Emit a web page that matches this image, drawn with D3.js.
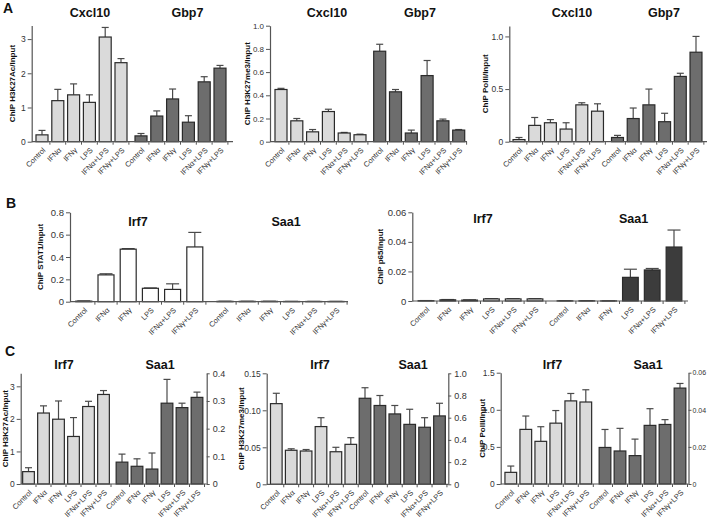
<!DOCTYPE html>
<html>
<head>
<meta charset="utf-8">
<script src="https://cdn.jsdelivr.net/npm/d3@7"></script>
<style>
  body { margin: 0; background: #fff; }
  svg { display: block; font-family: "Liberation Sans", Arial, sans-serif; }
</style>
</head>
<body>
<script>
// conditions on the x axis (same for every panel)
const conditions = ["Control", "IFNα", "IFNγ", "LPS", "IFNα+LPS", "IFNγ+LPS"];

// Panel A - Cxcl10 / Gbp7
const aGenes = ["Cxcl10", "Gbp7"];
const a1Cxcl10 = [0.2, 1.2, 1.37, 1.15, 3.06, 2.31];
const a1Cxcl10Sem = [0.13, 0.33, 0.32, 0.22, 0.28, 0.12];
const a1Gbp7 = [0.17, 0.75, 1.25, 0.57, 1.75, 2.15];
const a1Gbp7Sem = [0.07, 0.15, 0.29, 0.19, 0.15, 0.08];

const a2Cxcl10 = [0.45, 0.18, 0.085, 0.26, 0.075, 0.06];
const a2Cxcl10Sem = [0.01, 0.02, 0.02, 0.02, 0.005, 0.005];
const a2Gbp7 = [0.78, 0.43, 0.075, 0.57, 0.18, 0.1];
const a2Gbp7Sem = [0.06, 0.02, 0.025, 0.13, 0.015, 0.005];

const a3Cxcl10 = [0.02, 0.155, 0.18, 0.12, 0.35, 0.29];
const a3Cxcl10Sem = [0.02, 0.075, 0.03, 0.06, 0.02, 0.07];
const a3Gbp7 = [0.04, 0.22, 0.35, 0.19, 0.62, 0.85];
const a3Gbp7Sem = [0.02, 0.1, 0.15, 0.08, 0.03, 0.15];

// Panel B / C - Irf7 / Saa1
const bcGenes = ["Irf7", "Saa1"];
const b1Irf7 = [0.005, 0.24, 0.47, 0.12, 0.11, 0.49];
const b1Irf7Sem = [0.002, 0.01, 0.005, 0.003, 0.05, 0.13];
const b1Saa1 = [0.003, 0.003, 0.003, 0.002, 0.002, 0.002];
const b1Saa1Sem = [0.001, 0.001, 0.001, 0.001, 0.001, 0.001];

const b2Irf7 = [0.0002, 0.0008, 0.0006, 0.0014, 0.0014, 0.0014];
const b2Irf7Sem = [0.0001, 0.0002, 0.0002, 0.0002, 0.0002, 0.0002];
const b2Saa1 = [0.0001, 0.0001, 0.00005, 0.016, 0.021, 0.0365];
const b2Saa1Sem = [0.0001, 0.0001, 0.00005, 0.0055, 0.001, 0.0115];

const c1Irf7 = [0.38, 2.18, 1.99, 1.46, 2.38, 2.75];
const c1Irf7Sem = [0.12, 0.22, 0.56, 0.58, 0.16, 0.12];
const c1Saa1 = [0.079, 0.064, 0.054, 0.292, 0.276, 0.313];
const c1Saa1Sem = [0.029, 0.027, 0.058, 0.086, 0.016, 0.019];

const c2Irf7 = [0.109, 0.046, 0.045, 0.078, 0.044, 0.054];
const c2Irf7Sem = [0.014, 0.002, 0.002, 0.012, 0.006, 0.009];
const c2Saa1 = [0.775, 0.71, 0.634, 0.54, 0.514, 0.616];
const c2Saa1Sem = [0.095, 0.09, 0.076, 0.136, 0.086, 0.114];

const c3Irf7 = [0.157, 0.736, 0.575, 0.82, 1.12, 1.105];
const c3Irf7Sem = [0.085, 0.18, 0.197, 0.17, 0.1, 0.165];
const c3Saa1 = [0.0197, 0.0178, 0.0153, 0.0316, 0.0321, 0.0517];
const c3Saa1Sem = [0.0097, 0.0122, 0.0089, 0.009, 0.0026, 0.0025];

// axis ticks
const ticksA1 = [0, 1, 2, 3], labelsA1 = ["0", "1", "2", "3"];
const ticksA2 = [0, 0.2, 0.4, 0.6, 0.8, 1.0], labelsA2 = ["0", "0.2", "0.4", "0.6", "0.8", "1.0"];
const ticksA3 = [0, 0.5, 1.0], labelsA3 = ["0", "0.5", "1.0"];
const ticksB1 = [0, 0.2, 0.4, 0.6, 0.8], labelsB1 = ["0", "0.2", "0.4", "0.6", "0.8"];
const ticksB2 = [0, 0.02, 0.04, 0.06], labelsB2 = ["0", "0.02", "0.04", "0.06"];
const ticksC1 = [0, 1, 2, 3], labelsC1 = ["0", "1", "2", "3"];
const ticksC1R = [0, 0.1, 0.2, 0.3, 0.4], labelsC1R = ["0", "0.1", "0.2", "0.3", "0.4"];
const ticksC2 = [0, 0.05, 0.10, 0.15], labelsC2 = ["0", "0.05", "0.10", "0.15"];
const ticksC2R = [0, 0.2, 0.4, 0.6, 0.8, 1.0], labelsC2R = ["0", "0.2", "0.4", "0.6", "0.8", "1.0"];
const ticksC3 = [0, 0.5, 1.0, 1.5], labelsC3 = ["0", "0.5", "1.0", "1.5"];
const ticksC3R = [0, 0.02, 0.04, 0.06], labelsC3R = ["0", "0.02", "0.04", "0.06"];

const light = "#dadada", dark = "#6d6d6d", darker = "#3c3c3c";

const svg = d3.select("body").append("svg")
    .attr("width", 710)
    .attr("height", 518);

svg.append("rect").attr("width", 710).attr("height", 518).attr("fill", "#fff");

// ax = y axis x, xEnd = end of baseline, c1/c2 = first bar centre of each group, s = bar step
const panels = [
  { ylabel: "ChIP H3K27Ac/Input", genes: aGenes, vals: [a1Cxcl10, a1Gbp7], sems: [a1Cxcl10Sem, a1Gbp7Sem],
    fills: [light, dark], yMax: 3.4, ticks: ticksA1, labels: labelsA1,
    lay: { ax: 31.7, xEnd: 233, c1: 42, c2: 141, s: 15.8, pad: 0.24, y0: 141.7, yTop: 25.4,
           titleX: [90, 187.5], titleY: 17, ylabX: 12, cap: 7, tFont: 8.5 } },
  { ylabel: "ChIP H3K27me3/Input", genes: aGenes, vals: [a2Cxcl10, a2Gbp7], sems: [a2Cxcl10Sem, a2Gbp7Sem],
    fills: [light, dark], yMax: 1.0, ticks: ticksA2, labels: labelsA2,
    lay: { ax: 270, xEnd: 467, c1: 281, c2: 379.7, s: 15.8, pad: 0.24, y0: 141.7, yTop: 25.7,
           titleX: [327, 420], titleY: 17, ylabX: 247, cap: 7, tFont: 8 } },
  { ylabel: "ChIP PolII/Input", genes: aGenes, vals: [a3Cxcl10, a3Gbp7], sems: [a3Cxcl10Sem, a3Gbp7Sem],
    fills: [light, dark], yMax: 1.1, ticks: ticksA3, labels: labelsA3,
    lay: { ax: 509.3, xEnd: 707, c1: 519, c2: 617.5, s: 15.7, pad: 0.24, y0: 141.7, yTop: 25.9,
           titleX: [572, 664], titleY: 17, ylabX: 485, cap: 7, tFont: 8.5 } },
  { ylabel: "ChIP STAT1/Input", genes: bcGenes, vals: [b1Irf7, b1Saa1], sems: [b1Irf7Sem, b1Saa1Sem],
    fills: ["#fff", "#fff"], yMax: 0.8, ticks: ticksB1, labels: labelsB1,
    lay: { ax: 70, xEnd: 348, c1: 83.8, c2: 225, s: 22.2, pad: 0.28, y0: 301.7, yTop: 212.3,
           titleX: [138, 286], titleY: 226, ylabX: 40, cap: 13, tFont: 9.5 } },
  { ylabel: "ChIP p65/Input", genes: bcGenes, vals: [b2Irf7, b2Saa1], sems: [b2Irf7Sem, b2Saa1Sem],
    fills: ["#fff", darker], yMax: 0.06, ticks: ticksB2, labels: labelsB2,
    lay: { ax: 412.3, xEnd: 688, c1: 426, c2: 565, s: 21.8, pad: 0.28, y0: 301, yTop: 212.3,
           titleX: [483, 633.5], titleY: 223, ylabX: 380, cap: 13, tFont: 9.5 } },
  { ylabel: "ChIP H3K27Ac/Input", genes: bcGenes, vals: [c1Irf7, c1Saa1], sems: [c1Irf7Sem, c1Saa1Sem],
    fills: [light, dark], yMax: 3.4, ticks: ticksC1, labels: labelsC1,
    yMaxR: 0.4, ticksR: ticksC1R, labelsR: labelsC1R,
    lay: { ax: 20.7, xEnd: 206.7, c1: 28.5, c2: 122, s: 15, pad: 0.22, y0: 484, yTop: 373.3,
           titleX: [64, 160], titleY: 369, ylabX: 5.5, cap: 7, tFont: 8.5, rFont: 9 } },
  { ylabel: "ChIP H3K27me3/Input", genes: bcGenes, vals: [c2Irf7, c2Saa1], sems: [c2Irf7Sem, c2Saa1Sem],
    fills: [light, dark], yMax: 0.15, ticks: ticksC2, labels: labelsC2,
    yMaxR: 1.0, ticksR: ticksC2R, labelsR: labelsC2R,
    lay: { ax: 266.7, xEnd: 448.3, c1: 276.3, c2: 365, s: 14.9, pad: 0.22, y0: 484.3, yTop: 373.3,
           titleX: [320, 413], titleY: 369, ylabX: 241, cap: 7, tFont: 8.5, rFont: 9 } },
  { ylabel: "ChIP PolII/Input", genes: bcGenes, vals: [c3Irf7, c3Saa1], sems: [c3Irf7Sem, c3Saa1Sem],
    fills: [light, dark], yMax: 1.5, ticks: ticksC3, labels: labelsC3,
    yMaxR: 0.06, ticksR: ticksC3R, labelsR: labelsC3R,
    lay: { ax: 500.7, xEnd: 688.5, c1: 510.8, c2: 605, s: 15, pad: 0.22, y0: 484, yTop: 372.7,
           titleX: [552.5, 648], titleY: 369, ylabX: 482.5, cap: 7, tFont: 8.5, rFont: 7, rPad: 1 } }
];

function styleAxis(g, fontSize) {
  g.select(".domain").attr("stroke", "#555").attr("stroke-width", 1.2);
  g.selectAll(".tick line").attr("stroke", "#555").attr("stroke-width", 1);
  g.selectAll(".tick text")
    .attr("fill", "#333")
    .style("font-size", `${fontSize}px`)
    .style("font-family", "'Liberation Sans', Arial, sans-serif");
}

panels.forEach(p => {
  const L = p.lay;
  const g = svg.append("g");

  const yL = d3.scaleLinear().domain([0, p.yMax]).range([L.y0, L.yTop]);
  const yR = p.yMaxR ? d3.scaleLinear().domain([0, p.yMaxR]).range([L.y0, L.yTop]) : null;

  const x0 = d3.scaleBand()
      .domain(p.genes)
      .range([L.c1 - L.s / 2, L.c2 - L.s / 2 + 6 * L.s])
      .paddingInner(1 - 6 * L.s / (L.c2 - L.c1));
  const x1 = d3.scaleBand()
      .domain(conditions)
      .range([0, x0.bandwidth()])
      .paddingInner(L.pad)
      .paddingOuter(L.pad / 2);

  // bars + error bars
  p.genes.forEach((gene, gi) => {
    const y = (yR && gi === 1) ? yR : yL;
    const rows = conditions.map((c, i) => ({ c, v: p.vals[gi][i], e: p.sems[gi][i] }));
    const gg = g.append("g").attr("transform", `translate(${x0(gene)},0)`);

    gg.selectAll("line.err")
      .data(rows)
      .join("line")
      .attr("class", "err")
      .attr("x1", d => x1(d.c) + x1.bandwidth() / 2)
      .attr("x2", d => x1(d.c) + x1.bandwidth() / 2)
      .attr("y1", d => y(d.v))
      .attr("y2", d => y(d.v + d.e))
      .attr("stroke", "#4a4a4a")
      .attr("stroke-width", 1.2);

    gg.selectAll("line.cap")
      .data(rows)
      .join("line")
      .attr("class", "cap")
      .attr("x1", d => x1(d.c) + x1.bandwidth() / 2 - L.cap / 2)
      .attr("x2", d => x1(d.c) + x1.bandwidth() / 2 + L.cap / 2)
      .attr("y1", d => y(d.v + d.e))
      .attr("y2", d => y(d.v + d.e))
      .attr("stroke", "#4a4a4a")
      .attr("stroke-width", 1.2);

    gg.selectAll("rect")
      .data(rows)
      .join("rect")
      .attr("x", d => x1(d.c))
      .attr("width", x1.bandwidth())
      .attr("y", d => y(d.v))
      .attr("height", d => L.y0 - y(d.v))
      .attr("fill", p.fills[gi])
      .attr("stroke", "#2a2a2a")
      .attr("stroke-width", 1.2);

    // tick marks between categories
    gg.selectAll("line.xt")
      .data(rows)
      .join("line")
      .attr("class", "xt")
      .attr("x1", d => x1(d.c) + x1.step() - x1.step() * L.pad / 2)
      .attr("x2", d => x1(d.c) + x1.step() - x1.step() * L.pad / 2)
      .attr("y1", L.y0)
      .attr("y2", L.y0 + 3)
      .attr("stroke", "#555");

    // rotated category labels
    gg.selectAll("text.xl")
      .data(rows)
      .join("text")
      .attr("class", "xl")
      .attr("transform", d => `translate(${x1(d.c) + x1.bandwidth() / 2 + 4},${L.y0 + 9}) rotate(-45)`)
      .attr("text-anchor", "end")
      .style("font-size", "7.5px")
      .attr("fill", "#333")
      .text(d => d.c);

    // gene title
    svg.append("text")
      .attr("x", L.titleX[gi])
      .attr("y", L.titleY)
      .attr("text-anchor", "middle")
      .style("font-size", "12.5px")
      .style("font-weight", "bold")
      .attr("fill", "#111")
      .text(gene);
  });

  // x baseline
  g.append("line")
    .attr("x1", L.ax).attr("x2", L.xEnd)
    .attr("y1", L.y0).attr("y2", L.y0)
    .attr("stroke", "#555").attr("stroke-width", 1.2);

  // left axis
  g.append("g")
    .attr("transform", `translate(${L.ax},0)`)
    .call(d3.axisLeft(yL).tickValues(p.ticks).tickFormat((d, i) => p.labels[i]).tickSize(4).tickPadding(2).tickSizeOuter(0))
    .call(styleAxis, L.tFont);

  // right axis for the Saa1 bars in panel C
  if (yR) {
    g.append("g")
      .attr("transform", `translate(${L.xEnd},0)`)
      .call(d3.axisRight(yR).tickValues(p.ticksR).tickFormat((d, i) => p.labelsR[i])
        .tickSize(3).tickPadding(L.rPad || 3).tickSizeOuter(0))
      .call(styleAxis, L.rFont);
  }

  // y label
  g.append("text")
    .attr("transform", `translate(${L.ylabX},${(L.y0 + L.yTop) / 2}) rotate(-90)`)
    .attr("dy", "0.35em")
    .attr("text-anchor", "middle")
    .style("font-size", "8px")
    .style("font-weight", "bold")
    .attr("fill", "#111")
    .text(p.ylabel);
});

// panel letters
[["A", 3, 13], ["B", 6, 208], ["C", 5, 356]].forEach(([t, x, y]) => {
  svg.append("text")
    .attr("x", x).attr("y", y)
    .style("font-size", "14px")
    .style("font-weight", "bold")
    .attr("fill", "#111")
    .text(t);
});
</script>
</body>
</html>
